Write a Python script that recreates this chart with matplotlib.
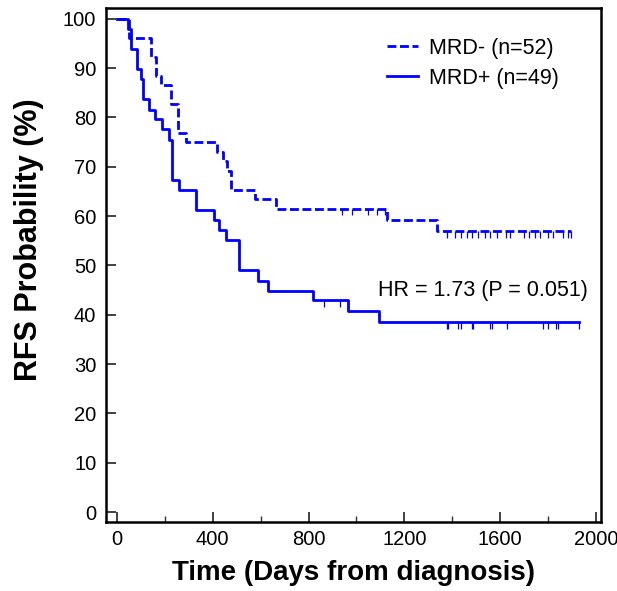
import numpy as np
import matplotlib.pyplot as plt

plt.rcParams['font.family'] = ['Liberation Sans', 'DejaVu Sans']

# MRD- group (dashed): event times (days) and survival (%) after each step
neg_times = [0, 51, 142, 163, 183, 228, 256, 288, 417, 445, 459, 476, 577, 663, 1128, 1338]
neg_surv = [100, 96.2, 92.3, 88.5, 86.5, 82.7, 76.9, 75.0, 73.1, 71.2, 69.2, 65.4, 63.5, 61.5, 59.3, 56.9]
neg_end = 1893
neg_censor = [938, 980, 1049, 1084, 1119,
              1377, 1411, 1435, 1460, 1481, 1509, 1537, 1557, 1585, 1624,
              1641, 1697, 1718, 1746, 1766, 1801, 1822, 1863, 1884, 1893]

# MRD+ group (solid)
pos_times = [0, 48, 59, 83, 100, 111, 135, 160, 188, 218, 229, 261, 331, 406, 427, 454,
             509, 588, 629, 817, 966, 1094]
pos_surv = [100, 98.0, 93.9, 89.8, 87.8, 83.7, 81.6, 79.6, 77.6, 75.5, 67.3, 65.3, 61.2,
            59.2, 57.1, 55.1, 49.0, 46.9, 44.9, 42.9, 40.8, 38.5]
pos_end = 1930
pos_censor = [864, 931, 1377, 1383, 1425, 1435, 1481, 1488, 1557, 1564, 1630,
              1780, 1801, 1833, 1842, 1930]

labels = ['MRD- (n=52)', 'MRD+ (n=49)']
hr_text = 'HR = 1.73 (P = 0.051)'
blue = '#0000ff'


def step_value(times, surv, t):
    """Survival value of the step curve at time t"""
    idx = np.searchsorted(times, t, side='right') - 1
    return np.asarray(surv)[idx]


fig = plt.figure(figsize=(6.17, 5.91), dpi=100)
ax = fig.add_axes([0.1718, 0.1168, 0.8022, 0.8697])

groups = [(neg_times, neg_surv, neg_end, neg_censor, (0, (3.2, 1.3))),
          (pos_times, pos_surv, pos_end, pos_censor, '-')]
for (times, surv, end, censor, ls), lab in zip(groups, labels):
    xs = list(times) + [end]
    ys = list(surv) + [surv[-1]]
    ax.step(xs, ys, where='post', color=blue, lw=2.0, linestyle=ls, label=lab)
    cy = step_value(times, surv, censor)
    ax.vlines(censor, cy - 1.3, cy, color=blue, lw=0.9)

ax.text(1528, 45, hr_text, ha='center', va='center', fontsize=15.5)

ax.set_xlim(-45, 2020)
ax.set_ylim(-2, 102.2)
ax.set_xticks(np.arange(0, 2001, 400))
ax.set_xticks(np.arange(200, 2000, 400), minor=True)
ax.set_yticks(np.arange(0, 101, 10))
ax.tick_params(axis='both', which='major', direction='in', length=7, width=1.3,
               labelsize=14.5, color='#333333')
ax.tick_params(axis='x', which='minor', direction='in', length=4, width=1.0, color='#333333')
ax.tick_params(axis='y', pad=7)
ax.tick_params(axis='x', pad=6)
for sp in ax.spines.values():
    sp.set_linewidth(1.8)

ax.set_xlabel('Time (Days from diagnosis)', fontsize=20, fontweight='bold', labelpad=8)
ax.set_ylabel('RFS Probability (%)', fontsize=22, fontweight='bold')
ax.yaxis.set_label_coords(-0.125, 0.55)

ax.legend(loc='upper right', bbox_to_anchor=(0.955, 0.98), frameon=False, fontsize=15.5,
          handlelength=1.4, handletextpad=0.55, labelspacing=0.42)

fig.savefig('out.png', dpi=100)
